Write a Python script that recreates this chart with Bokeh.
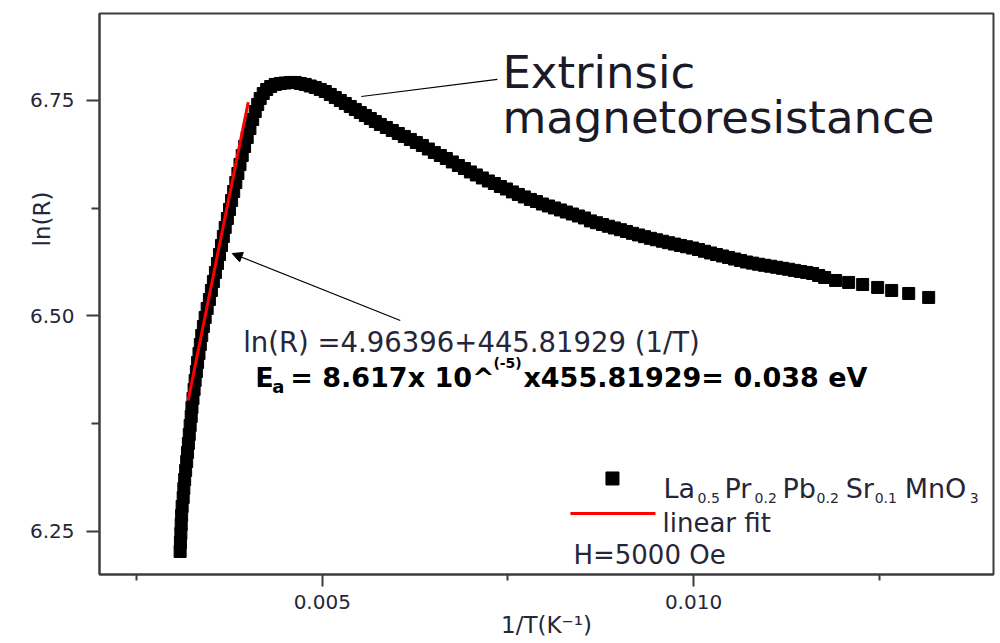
from bokeh.plotting import figure
from bokeh.models import Range1d, FixedTicker, PrintfTickFormatter, Label, Arrow, NormalHead, Title
from bokeh.embed import file_html
from bokeh.resources import INLINE

# ---- data: 1/T (K^-1) and ln(R) ----
inv_T = [
    0.003086, 0.003090, 0.003096, 0.003100, 0.003106, 0.003113, 0.003127, 0.003136,
    0.003147, 0.003160, 0.003174, 0.003185, 0.003197, 0.003209, 0.003221, 0.003235,
    0.003245, 0.003259, 0.003274, 0.003288, 0.003305, 0.003321, 0.003340, 0.003358,
    0.003377, 0.003399, 0.003423, 0.003450, 0.003480, 0.003507, 0.003534, 0.003561,
    0.003589, 0.003616, 0.003643, 0.003668, 0.003693, 0.003722, 0.003751, 0.003779,
    0.003807, 0.003836, 0.003864, 0.003892, 0.003922, 0.003954, 0.003989, 0.004026,
    0.004063, 0.004097, 0.004131, 0.004164, 0.004205, 0.004252, 0.004306, 0.004367,
    0.004434, 0.004501, 0.004569, 0.004636, 0.004704, 0.004771, 0.004838, 0.004906,
    0.004973, 0.005040, 0.005108, 0.005175, 0.005243, 0.005310, 0.005377, 0.005445,
    0.005512, 0.005580, 0.005647, 0.005714, 0.005782, 0.005863, 0.005943, 0.006024,
    0.006105, 0.006186, 0.006267, 0.006348, 0.006429, 0.006509, 0.006590, 0.006671,
    0.006752, 0.006833, 0.006914, 0.006995, 0.007075, 0.007156, 0.007237, 0.007318,
    0.007399, 0.007480, 0.007561, 0.007641, 0.007722, 0.007803, 0.007884, 0.007965,
    0.008046, 0.008127, 0.008208, 0.008288, 0.008369, 0.008450, 0.008531, 0.008612,
    0.008693, 0.008774, 0.008854, 0.008935, 0.009016, 0.009097, 0.009178, 0.009259,
    0.009340, 0.009421, 0.009501, 0.009582, 0.009663, 0.009744, 0.009825, 0.009906,
    0.009987, 0.010067, 0.010148, 0.010229, 0.010310, 0.010391, 0.010472, 0.010553,
    0.010633, 0.010714, 0.010795, 0.010876, 0.010957, 0.011038, 0.011119, 0.011199,
    0.011280, 0.011361, 0.011442, 0.011523, 0.011604, 0.011685, 0.011766, 0.011914,
    0.012089, 0.012278, 0.012480, 0.012669, 0.012898, 0.013167,
]
ln_R = [
    6.2268, 6.2372, 6.2477, 6.2581, 6.2686, 6.2790, 6.2894, 6.2999,
    6.3103, 6.3208, 6.3312, 6.3417, 6.3521, 6.3625, 6.3730, 6.3834,
    6.3939, 6.4043, 6.4147, 6.4252, 6.4356, 6.4461, 6.4565, 6.4669,
    6.4774, 6.4878, 6.4983, 6.5087, 6.5191, 6.5296, 6.5400, 6.5505,
    6.5609, 6.5713, 6.5818, 6.5922, 6.6027, 6.6131, 6.6236, 6.6340,
    6.6444, 6.6549, 6.6653, 6.6758, 6.6862, 6.6966, 6.7071, 6.7175,
    6.7280, 6.7372, 6.7454, 6.7523, 6.7581, 6.7628, 6.7662, 6.7686,
    6.7697, 6.7703, 6.7709, 6.7709, 6.7697, 6.7686, 6.7668, 6.7651,
    6.7628, 6.7604, 6.7570, 6.7535, 6.7500, 6.7465, 6.7430, 6.7396,
    6.7361, 6.7326, 6.7291, 6.7256, 6.7222, 6.7187, 6.7152, 6.7117,
    6.7083, 6.7048, 6.7013, 6.6978, 6.6937, 6.6897, 6.6862, 6.6827,
    6.6787, 6.6746, 6.6711, 6.6671, 6.6636, 6.6601, 6.6566, 6.6537,
    6.6502, 6.6473, 6.6439, 6.6410, 6.6381, 6.6352, 6.6328, 6.6299,
    6.6276, 6.6253, 6.6230, 6.6206, 6.6183, 6.6160, 6.6137, 6.6103,
    6.6082, 6.6061, 6.6041, 6.6021, 6.6001, 6.5980, 6.5959, 6.5940,
    6.5920, 6.5901, 6.5884, 6.5867, 6.5850, 6.5834, 6.5818, 6.5803,
    6.5788, 6.5771, 6.5751, 6.5731, 6.5713, 6.5696, 6.5679, 6.5661,
    6.5644, 6.5626, 6.5613, 6.5600, 6.5588, 6.5577, 6.5565, 6.5553,
    6.5542, 6.5529, 6.5516, 6.5505, 6.5493, 6.5470, 6.5447, 6.5412,
    6.5389, 6.5365, 6.5331, 6.5296, 6.5261, 6.5215,
]
# linear-fit segment as drawn
fit_x = [0.003194, 0.004003]
fit_y = [6.402, 6.748]

x_ticks = [0.005, 0.010]
x_minor = [0.0025, 0.0075, 0.0125]
y_ticks = [6.25, 6.50, 6.75]
y_minor = [6.375, 6.625]

FONT = "DejaVu Sans"
TXT = "#26263a"

p = figure(width=1000, height=643, output_backend="svg", toolbar_location=None,
           x_range=Range1d(0.002, 0.01404), y_range=Range1d(6.2001, 6.8509),
           min_border_left=99, min_border_right=7, min_border_top=13, min_border_bottom=69)
p.grid.visible = False
p.background_fill_color = "white"
p.border_fill_color = "white"
p.outline_line_color = "#3c3c3c"
p.outline_line_width = 2

for ax in (p.xaxis[0], p.yaxis[0]):
    ax.axis_line_color = "#3c3c3c"
    ax.axis_line_width = 2
    ax.major_tick_line_color = "#3c3c3c"
    ax.minor_tick_line_color = "#3c3c3c"
    ax.major_tick_line_width = 2
    ax.minor_tick_line_width = 2
    ax.major_tick_in = 0
    ax.minor_tick_in = 0
    ax.major_label_text_font = FONT
    ax.major_label_text_font_size = "20px"
    ax.major_label_text_color = TXT
    ax.axis_label_text_font = FONT
    ax.axis_label_text_font_style = "normal"
    ax.axis_label_text_color = TXT

p.xaxis.ticker = FixedTicker(ticks=x_ticks, minor_ticks=x_minor)
p.xaxis.formatter = PrintfTickFormatter(format="%.3f")
p.xaxis.major_tick_out = 12
p.xaxis.minor_tick_out = 6
p.xaxis.major_label_standoff = 8
p.xaxis.axis_label = "1/T(K\u207b\u00b9)"
p.xaxis.axis_label_text_font_size = "23px"
p.xaxis.axis_label_standoff = 0

p.yaxis.ticker = FixedTicker(ticks=y_ticks, minor_ticks=y_minor)
p.yaxis.formatter = PrintfTickFormatter(format="%.2f")
p.yaxis.major_tick_out = 13
p.yaxis.minor_tick_out = 8
p.yaxis.major_label_standoff = 12

# y title placed on the left side, pushed in toward the tick labels
p.add_layout(Title(text="ln(R)", align="left", offset=328, vertical_align="bottom",
                   standoff=-56, text_font=FONT, text_font_size="23px",
                   text_font_style="normal", text_color=TXT), "left")

# data
p.scatter(inv_T, ln_R, marker="square", size=12, color="black")
p.line(fit_x, fit_y, color="#ff0000", line_width=3)

# pointer lines
p.line([0.005526, 0.007358], [6.7546, 6.7744], color="black", line_width=1.2)
p.add_layout(Arrow(end=NormalHead(size=10, fill_color="black", line_color="black", line_width=1),
                   x_start=0.006051, y_start=6.4948, x_end=0.003787, y_end=6.5725,
                   line_color="black", line_width=1.2))


def lab(x, y, text, size, color=TXT, style="normal", align="left", baseline="alphabetic"):
    p.add_layout(Label(x=x, y=y, text=text, text_font=FONT, text_font_size=size,
                       text_color=color, text_font_style=style, text_align=align,
                       text_baseline=baseline))

# big annotation
lab(0.0074259, 6.7825, "Extrinsic", "45px", color="#1a1a28")
lab(0.0074259, 6.7303, "magnetoresistance", "45px", color="#1a1a28")

# fit equation
lab(0.0039353, 6.4693, "ln(R) =4.96396+445.81929 (1/T)", "27.5px")
lab(0.0040970, 6.4287, "E", "27px", color="black", style="bold")
lab(0.0043262, 6.4182, "a", "18px", color="black", style="bold")
lab(0.0045687, 6.4287, "= 8.617x 10^", "27px", color="black", style="bold")
lab(0.0073046, 6.4449, "(-5)", "14px", color="black", style="bold")
lab(0.0077089, 6.4287, "x455.81929= 0.038 eV", "27px", color="black", style="bold")

# legend
p.scatter([0.0089084], [6.3115], marker="square", size=13, color="black")
parts = [("La", 0.0095957, False), ("0.5", 0.0100539, True), ("Pr", 0.0104178, False),
         ("0.2", 0.0108221, True), ("Pb", 0.0111995, False), ("0.2", 0.0116577, True),
         ("Sr", 0.0120485, False), ("0.1", 0.0124394, True), ("MnO", 0.0128437, False),
         ("3", 0.0137197, True)]
for t, xx, sub in parts:
    if sub:
        lab(xx, 6.2894, t, "14px")
    else:
        lab(xx, 6.2999, t, "27px")
p.line([0.0083423, 0.0094879], [6.2709, 6.2709], color="#ff0000", line_width=3)
lab(0.0095822, 6.2604, "linear fit", "26px")
lab(0.0083828, 6.2222, "H=5000 Oe", "26px")

open("out.html", "w").write(file_html(p, INLINE))
